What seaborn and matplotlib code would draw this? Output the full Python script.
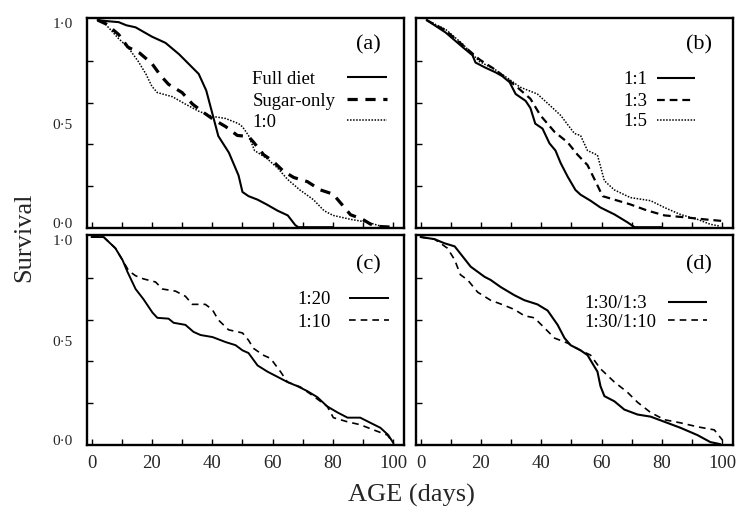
import numpy as np
import pandas as pd
import matplotlib
matplotlib.use("Agg")
import matplotlib.pyplot as plt
from matplotlib.ticker import FixedLocator
from matplotlib.transforms import ScaledTranslation
import seaborn as sns

# ---------------- data ----------------
# panel (a)
full_age = [2, 5, 9, 11.5, 14.6, 20, 24.5, 29, 35.5, 38, 40, 42, 45.5, 48.7, 50, 52, 55, 58, 61.6, 65, 67.5, 68.5, 80]
full_surv = [1.0, 0.995, 0.99, 0.975, 0.965, 0.92, 0.89, 0.835, 0.74, 0.66, 0.55, 0.44, 0.36, 0.25, 0.17, 0.15, 0.133, 0.11, 0.08, 0.057, 0.01, 0.0, 0.0]
sugar_age = [2, 5, 9, 12, 16, 20, 23, 25.5, 30, 33.4, 36.8, 40.4, 44.4, 48.3, 52, 53.7, 57, 60, 63.6, 67, 71.5, 75.8, 80, 83.5, 85.8, 89.6, 92.4, 95.7, 100]
sugar_surv = [1.0, 0.98, 0.93, 0.87, 0.84, 0.79, 0.73, 0.69, 0.65, 0.595, 0.557, 0.52, 0.486, 0.443, 0.438, 0.41, 0.35, 0.32, 0.27, 0.24, 0.22, 0.18, 0.16, 0.10, 0.06, 0.04, 0.015, 0.003, 0.0]
one0_age = [2, 4, 9, 12, 15.5, 18, 20, 21.8, 26.8, 31, 35.5, 40, 44.4, 48.7, 50, 52, 54, 58, 61.6, 65, 69, 73.5, 77, 80, 85.8, 91.4, 94.7, 97]
one0_surv = [1.0, 0.99, 0.91, 0.87, 0.80, 0.74, 0.68, 0.65, 0.63, 0.595, 0.56, 0.535, 0.525, 0.50, 0.485, 0.443, 0.37, 0.333, 0.286, 0.23, 0.18, 0.133, 0.08, 0.057, 0.038, 0.024, 0.01, 0.0]

# panel (b)
b11_age = [2, 8.3, 13.9, 17.2, 18.2, 21.5, 24.8, 27, 29.5, 31.5, 34.8, 36.4, 38, 40.4, 42.7, 44.7, 46.4, 48.7, 51.3, 53, 56.3, 59.6, 64.2, 68.5, 70.9, 80]
b11_surv = [1.0, 0.94, 0.87, 0.83, 0.795, 0.77, 0.748, 0.73, 0.70, 0.643, 0.61, 0.575, 0.50, 0.476, 0.405, 0.37, 0.31, 0.245, 0.18, 0.157, 0.128, 0.095, 0.062, 0.024, 0.0, 0.0]
b13_age = [2, 8.3, 13.9, 19.5, 24.8, 28.8, 32, 36.4, 39.7, 44.4, 48.7, 52, 55.3, 58, 60.3, 64.2, 69.5, 75.2, 80.8, 87.4, 94, 100]
b13_surv = [1.0, 0.95, 0.88, 0.81, 0.76, 0.714, 0.676, 0.62, 0.54, 0.46, 0.41, 0.35, 0.30, 0.22, 0.15, 0.133, 0.11, 0.08, 0.057, 0.048, 0.038, 0.03]
b15_age = [2, 8.3, 13.9, 19.5, 24.8, 28.8, 33, 38.7, 43, 46.4, 51, 53, 55.3, 58.6, 60.9, 64.2, 69.5, 76.2, 80.8, 86, 91.7, 96, 99.3]
b15_surv = [1.0, 0.955, 0.885, 0.80, 0.76, 0.72, 0.676, 0.643, 0.586, 0.54, 0.452, 0.443, 0.37, 0.348, 0.224, 0.18, 0.143, 0.128, 0.095, 0.062, 0.038, 0.014, 0.005]

# panel (c)
c20_age = [0, 4, 7.9, 10.3, 11.9, 14.6, 17.2, 20.2, 21.8, 25.5, 27.2, 31.1, 33.8, 36.1, 40.1, 44.4, 47.7, 50, 52, 55, 58.3, 61.6, 64.9, 68.2, 71.5, 74.8, 78.1, 81.5, 84.8, 89, 92.4, 95.7, 98.3, 100]
c20_surv = [1.0, 1.0, 0.946, 0.888, 0.832, 0.749, 0.70, 0.635, 0.61, 0.606, 0.586, 0.576, 0.542, 0.527, 0.517, 0.493, 0.478, 0.453, 0.44, 0.38, 0.35, 0.325, 0.30, 0.28, 0.256, 0.227, 0.182, 0.153, 0.128, 0.128, 0.103, 0.079, 0.044, 0.005]
c10_age = [0, 4, 7.9, 10.3, 12.3, 14.6, 17.2, 21.2, 23.5, 27.8, 31.1, 33.4, 37.7, 40, 42, 45.4, 50, 52, 53.6, 57, 59.3, 62.6, 64.9, 69.2, 73.5, 78.1, 80.1, 84.8, 89, 93.4, 98, 99.7]
c10_surv = [1.0, 1.0, 0.946, 0.888, 0.837, 0.813, 0.798, 0.783, 0.749, 0.739, 0.714, 0.675, 0.675, 0.65, 0.60, 0.552, 0.537, 0.502, 0.463, 0.429, 0.414, 0.35, 0.30, 0.276, 0.232, 0.182, 0.128, 0.108, 0.094, 0.069, 0.044, 0.01]

# panel (d)
d3_age = [0, 4.6, 7.9, 11.3, 13.2, 16.6, 21.2, 23.2, 26.5, 31.1, 34.4, 38.7, 42.1, 45.4, 47.7, 49.7, 53, 55.3, 57.6, 58.6, 59.6, 60.9, 64.2, 67.5, 71.9, 76.2, 80.8, 86.1, 91.7, 96, 99.3]
d3_surv = [1.0, 0.99, 0.97, 0.955, 0.92, 0.857, 0.808, 0.793, 0.759, 0.719, 0.695, 0.675, 0.645, 0.576, 0.512, 0.478, 0.453, 0.43, 0.374, 0.35, 0.28, 0.232, 0.207, 0.167, 0.143, 0.133, 0.108, 0.079, 0.044, 0.01, 0.0]
d10_age = [0, 4.6, 6.6, 8.9, 11.3, 13.2, 15.6, 18.9, 23.2, 27.8, 31.1, 34.4, 37.7, 41, 44.4, 48.7, 53, 56.3, 59.6, 64.2, 68.5, 71.9, 76.2, 80.8, 86.1, 91.7, 97.3, 100]
d10_surv = [1.0, 0.99, 0.97, 0.946, 0.89, 0.818, 0.793, 0.734, 0.695, 0.67, 0.65, 0.62, 0.61, 0.562, 0.512, 0.488, 0.453, 0.43, 0.364, 0.30, 0.251, 0.202, 0.153, 0.118, 0.103, 0.084, 0.069, 0.02]

panel_labels = ["(a)", "(b)", "(c)", "(d)"]
x_ticks = [0, 20, 40, 60, 80, 100]
y_ticks = [0.0, 0.5, 1.0]
y_ticklabels = ["0\u00b70", "0\u00b75", "1\u00b70"]

# ---------------- styling ----------------
sns.set_theme(style="white")
plt.rcParams["font.family"] = ["Liberation Serif", "DejaVu Serif"]

SOLID = "-"
DOTTED = (0, (1, 1))

series = {
    0: [("Full diet", full_age, full_surv, dict(linestyle=SOLID, linewidth=1.5)),
        ("Sugar-only", sugar_age, sugar_surv, dict(linestyle=(0, (3.2, 2.4)), linewidth=2.3)),
        ("1:0", one0_age, one0_surv, dict(linestyle=DOTTED, linewidth=1.1))],
    1: [("1:1", b11_age, b11_surv, dict(linestyle=SOLID, linewidth=1.5)),
        ("1:3", b13_age, b13_surv, dict(linestyle=(0, (3.5, 2.2)), linewidth=1.6)),
        ("1:5", b15_age, b15_surv, dict(linestyle=DOTTED, linewidth=1.1))],
    2: [("1:20", c20_age, c20_surv, dict(linestyle=SOLID, linewidth=1.4)),
        ("1:10", c10_age, c10_surv, dict(linestyle=(0, (4, 3)), linewidth=1.2))],
    3: [("1:30/1:3", d3_age, d3_surv, dict(linestyle=SOLID, linewidth=1.5)),
        ("1:30/1:10", d10_age, d10_surv, dict(linestyle=(0, (4, 3)), linewidth=1.2))],
}

# legend geometry in axes fraction: text_x, line_x0, line_x1, row ys, label (x,y)
legend_geo = {
    0: (0.522, 0.821, 0.947, [0.717, 0.613, 0.513], (0.928, 0.873)),
    1: (0.655, 0.759, 0.880, [0.715, 0.610, 0.515], (0.934, 0.873)),
    2: (0.663, 0.827, 0.953, [0.700, 0.595], (0.928, 0.857)),
    3: (0.532, 0.794, 0.918, [0.681, 0.595], (0.934, 0.857)),
}

W, H = 740, 511
fig, axes = plt.subplots(2, 2, figsize=(W / 100, H / 100), dpi=100)
fig.subplots_adjust(left=87 / W, right=733 / W, top=1 - 18 / H, bottom=1 - 445 / H,
                    wspace=0.038, hspace=0.033)
axes = axes.ravel()

for i, ax in enumerate(axes):
    for name, ages, surv, st in series[i]:
        df = pd.DataFrame({"age": ages, "surv": surv})
        sns.lineplot(data=df, x="age", y="surv", ax=ax, color="black",
                     estimator=None, sort=False, **st)
    ax.set_xlim(-1.5, 103.5)
    ax.set_ylim(-0.004, 1.01)
    ax.set_xlabel("")
    ax.set_ylabel("")
    for sp in ax.spines.values():
        sp.set_visible(True)
        sp.set_color("black")
        sp.set_linewidth(1.7)
    ax.set_xticks(x_ticks)
    ax.xaxis.set_minor_locator(FixedLocator([10, 30, 50, 70, 90]))
    ax.set_yticks(y_ticks)
    ax.yaxis.set_minor_locator(FixedLocator([0.2, 0.4, 0.6, 0.8]))
    ax.tick_params(axis="x", which="both", direction="in", length=4, width=1,
                   color="black", bottom=True, top=False, pad=7, labelsize=13.5)
    ax.tick_params(axis="y", which="major", direction="in", length=0, pad=10,
                   labelsize=11, left=True)
    ax.tick_params(axis="y", which="minor", direction="in", length=4, width=1,
                   color="black", left=True)
    if i in (0, 2):
        ax.set_yticklabels(y_ticklabels)
        # nudge 0·0 up and 1·0 down a little, as in the reference
        shifts = [3.0, 0.0, -2.0]
        for lab, dy in zip(ax.get_yticklabels(), shifts):
            lab.set_transform(lab.get_transform() +
                              ScaledTranslation(0, dy / 72, fig.dpi_scale_trans))
    else:
        ax.tick_params(axis="y", labelleft=False)
    if i in (0, 1):
        ax.tick_params(axis="x", labelbottom=False)

    tx, lx0, lx1, rows, (px, py) = legend_geo[i]
    for (name, _, _, st), ry in zip(series[i], rows):
        ax.text(tx, ry, name, transform=ax.transAxes, ha="left",
                va="center_baseline", fontsize=13.5, color="black")
        ax.plot([lx0, lx1], [ry, ry], transform=ax.transAxes, color="black",
                solid_capstyle="butt", dash_capstyle="butt", **st)
    ax.text(px, py, panel_labels[i], transform=ax.transAxes, ha="right",
            va="center", fontsize=16, color="black")

fig.text(24 / W, 1 - 237 / H, "Survival", rotation=90, ha="center", va="center",
         fontsize=19)
fig.text(411 / W, 1 - 495 / H, "AGE (days)", ha="center", va="center", fontsize=19)

fig.savefig("out.png", dpi=100, facecolor="white")
